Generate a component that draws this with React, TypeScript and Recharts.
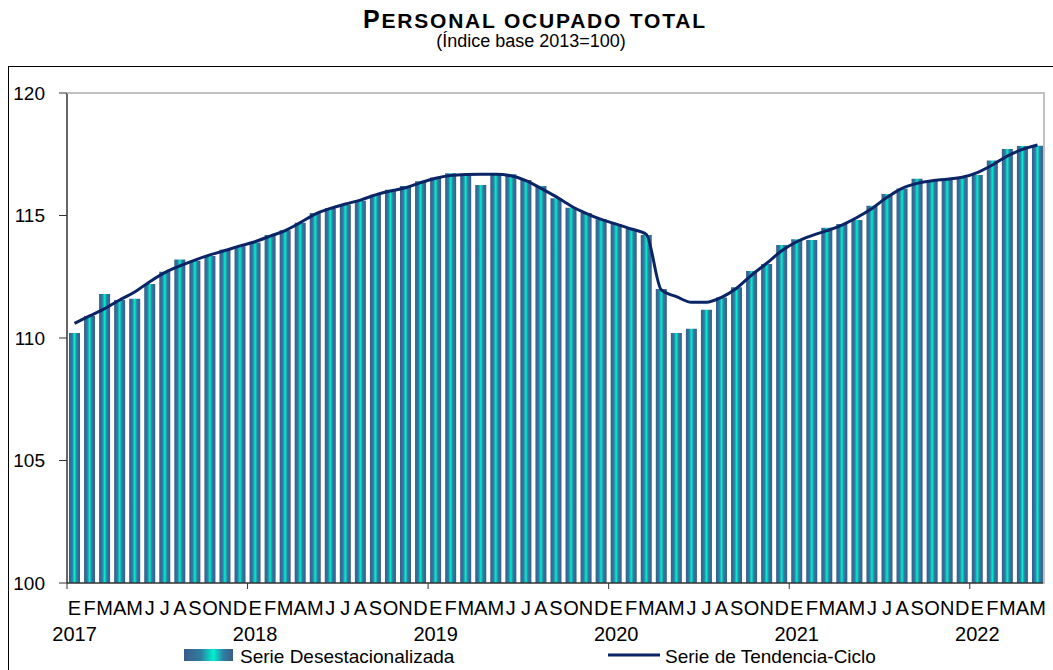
import React from 'react';
import { ComposedChart, Bar, Line, XAxis, YAxis } from 'recharts';

const monthLetters = ['E', 'F', 'M', 'A', 'M', 'J', 'J', 'A', 'S', 'O', 'N', 'D'];
const years = [2017, 2018, 2019, 2020, 2021, 2022];
const yTicks = [100, 105, 110, 115, 120];

// Serie Desestacionalizada, ene-2017 .. may-2022
const desestacionalizada = [
  110.2, 110.9, 111.8, 111.55, 111.6, 112.2, 112.7, 113.2, 113.15, 113.35, 113.6, 113.75,
  113.9, 114.2, 114.4, 114.7, 115.1, 115.3, 115.45, 115.6, 115.85, 116.05, 116.2, 116.4,
  116.55, 116.72, 116.65, 116.25, 116.65, 116.68, 116.45, 116.2, 115.7, 115.32, 115.1, 114.85,
  114.65, 114.45, 114.2, 112.0, 110.2, 110.38, 111.15, 111.65, 112.07, 112.73, 113.02, 113.8,
  114.03, 114.0, 114.5, 114.65, 114.82, 115.4, 115.88, 116.1, 116.5, 116.42, 116.48, 116.55,
  116.65, 117.24, 117.71, 117.84, 117.85,
];

// Serie de Tendencia-Ciclo
const tendencia = [
  110.6, 110.9, 111.2, 111.55, 111.88, 112.3, 112.67, 112.94, 113.18, 113.39, 113.57, 113.76,
  113.93, 114.16, 114.38, 114.71, 115.06, 115.29, 115.47, 115.63, 115.84, 116.0, 116.13, 116.34,
  116.52, 116.63, 116.67, 116.68, 116.68, 116.62, 116.42, 116.11, 115.77, 115.39, 115.09, 114.84,
  114.65, 114.45, 114.23, 111.96, 111.69, 111.46, 111.46, 111.66, 112.03, 112.57, 113.05, 113.56,
  113.93, 114.18, 114.38, 114.61, 114.92, 115.29, 115.74, 116.11, 116.31, 116.42, 116.48, 116.56,
  116.75, 117.06, 117.43, 117.7, 117.88,
];

const FONT = '"Liberation Sans", Arial, sans-serif';
const BAND = 978 / 65;

const data = desestacionalizada.map((v, i) => ({
  key: `${years[Math.floor(i / 12)]}-${(i % 12) + 1}`,
  month: monthLetters[i % 12],
  year: i % 12 === 0 ? String(years[Math.floor(i / 12)]) : '',
  desest: v,
  tend: tendencia[i],
}));

const MonthTick = (props: any) => {
  const { x, y, index } = props;
  const d = data[index];
  if (!d) return null;
  return (
    <g>
      {d.year && <line x1={x - BAND / 2} x2={x - BAND / 2} y1={y} y2={y + 6} stroke="#333" strokeWidth={1} />}
      <text x={x} y={y + 32} textAnchor="middle" fontSize={20} fontFamily={FONT} fill="#000">
        {d.month}
      </text>
      {d.year && (
        <text x={x} y={y + 58} textAnchor="middle" fontSize={20} fontFamily={FONT} fill="#000">
          {d.year}
        </text>
      )}
    </g>
  );
};

export default function App() {
  return (
    <div style={{ position: 'absolute', left: 0, top: 0, width: 1053, height: 670, background: '#fff', overflow: 'hidden' }}>
      {/* outer frame */}
      <div style={{ position: 'absolute', left: 8, top: 66, width: 1100, height: 700, borderLeft: '1px solid #000', borderTop: '1px solid #000' }} />
      {/* title */}
      <svg width={1053} height={62} style={{ position: 'absolute', left: 0, top: 0 }}>
        <text x={534} y={28} textAnchor="middle" fontFamily={FONT} fontWeight="bold" fill="#000" textLength={342} lengthAdjust="spacing">
          <tspan fontSize={25}>P</tspan>
          <tspan fontSize={21}>ERSONAL OCUPADO TOTAL</tspan>
        </text>
        <text x={531} y={47} textAnchor="middle" fontFamily={FONT} fontSize={18} fill="#000">
          (Índice base 2013=100)
        </text>
      </svg>
      <div style={{ position: 'absolute', left: 0, top: 0 }}>
        <ComposedChart width={1053} height={670} data={data} margin={{ top: 93, right: 8, left: 0, bottom: 0 }} barCategoryGap={2}>
          <defs>
            <linearGradient id="barGrad" x1="0" y1="0" x2="1" y2="0">
              <stop offset="0" stopColor="#3a5a8a" />
              <stop offset="0.3" stopColor="#2e7fa2" />
              <stop offset="0.5" stopColor="#00f0d0" />
              <stop offset="0.7" stopColor="#2e7fa2" />
              <stop offset="1" stopColor="#3a5a8a" />
            </linearGradient>
          </defs>
          <XAxis
            dataKey="key"
            interval={0}
            height={87}
            tickLine={false}
            tickSize={0}
            tickMargin={0}
            axisLine={{ stroke: '#333', strokeWidth: 1.5 }}
            tick={<MonthTick />}
          />
          <YAxis
            domain={[100, 120]}
            ticks={yTicks}
            width={67}
            tickSize={8}
            tickMargin={14}
            axisLine={{ stroke: '#333', strokeWidth: 1.5 }}
            tickLine={{ stroke: '#333' }}
            tick={{ fontSize: 19, fontFamily: FONT, fill: '#000' }}
            allowDataOverflow
          />
          <Bar dataKey="desest" fill="url(#barGrad)" isAnimationActive={false} />
          <Line type="monotone" dataKey="tend" stroke="#0b2466" strokeWidth={3} dot={false} isAnimationActive={false} />
        </ComposedChart>
      </div>
      {/* plot frame top/right */}
      <div style={{ position: 'absolute', left: 67, top: 92, width: 976, height: 490, borderTop: '2px solid #c0c0c0', borderRight: '2px solid #c0c0c0', pointerEvents: 'none' }} />
      {/* legend */}
      <svg width={1053} height={30} style={{ position: 'absolute', left: 0, top: 640 }}>
        <defs>
          <linearGradient id="legGrad" x1="0" y1="0" x2="1" y2="0">
            <stop offset="0" stopColor="#3a5a8a" />
            <stop offset="0.35" stopColor="#2e7fa2" />
            <stop offset="0.6" stopColor="#00f0d0" />
            <stop offset="0.8" stopColor="#2e7fa2" />
            <stop offset="1" stopColor="#3a5a8a" />
          </linearGradient>
        </defs>
        <rect x={184} y={9} width={49} height={12} fill="url(#legGrad)" />
        <text x={240} y={23} fontSize={19} fontFamily={FONT} fill="#000">Serie Desestacionalizada</text>
        <line x1={608} x2={660} y1={15} y2={15} stroke="#0b2466" strokeWidth={3} />
        <text x={665} y={23} fontSize={19} fontFamily={FONT} fill="#000">Serie de Tendencia-Ciclo</text>
      </svg>
    </div>
  );
}
